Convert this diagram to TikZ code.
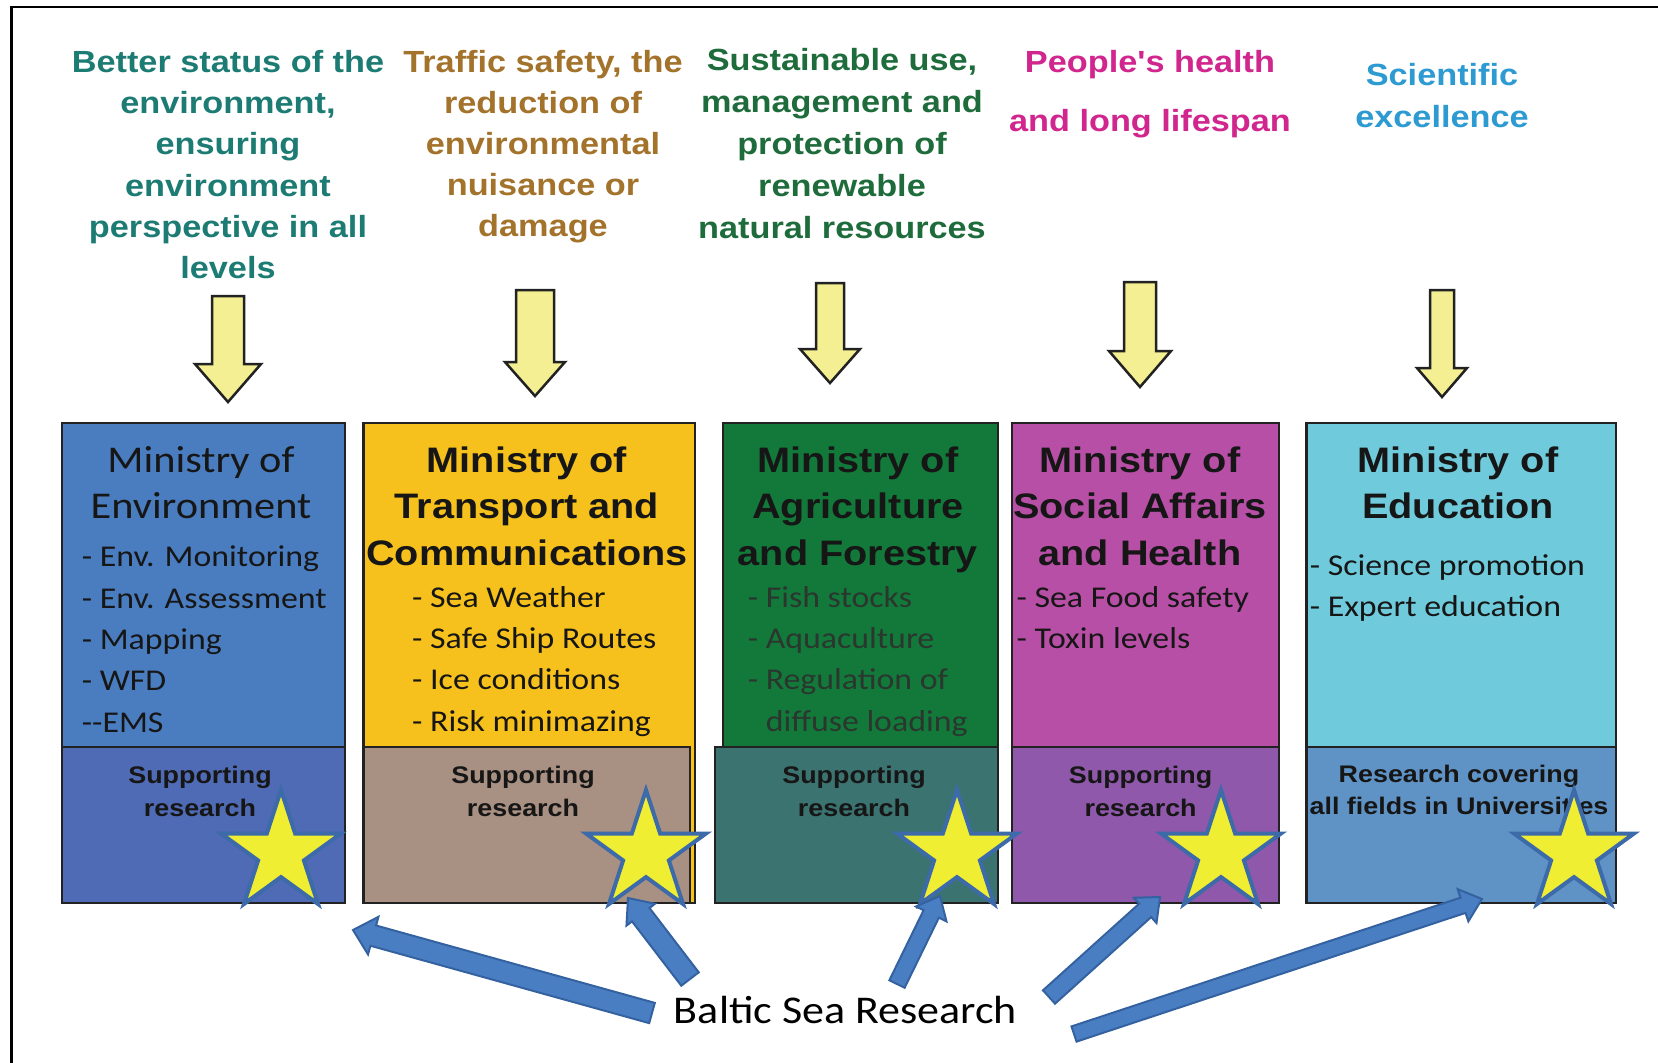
\documentclass[tikz,border=0pt]{standalone}
\usepackage{fontspec}
\usetikzlibrary{calc,shapes.geometric}
\newfontfamily\hfont{Liberation Sans}[FakeStretch=1.12,Ligatures=TeXOff]
\newfontfamily\cfont{Carlito}[FakeStretch=1.12,Ligatures=TeXOff]
\newcommand\fl[1]{\rule{0pt}{#1pt}}
\definecolor{cA}{HTML}{1C7C74}
\definecolor{cB}{HTML}{A3722B}
\definecolor{cC}{HTML}{1E6C3B}
\definecolor{cD}{HTML}{D0268E}
\definecolor{cE}{HTML}{2D9BD2}
\definecolor{boxline}{HTML}{222222}
\definecolor{boxtext}{HTML}{161616}
\definecolor{bAt}{HTML}{4A7DBF}
\definecolor{bAb}{HTML}{4F6BB5}
\definecolor{bBt}{HTML}{F6C11C}
\definecolor{bBb}{HTML}{A89082}
\definecolor{bCt}{HTML}{13793A}
\definecolor{bCb}{HTML}{3B7371}
\definecolor{bDt}{HTML}{B84FA6}
\definecolor{bDb}{HTML}{8F58AA}
\definecolor{bEt}{HTML}{6FCADC}
\definecolor{bEb}{HTML}{5F93C5}
\definecolor{yfill}{HTML}{F3EF92}
\definecolor{staryellow}{HTML}{F0EE32}
\definecolor{starblue}{HTML}{3D6AA8}
\definecolor{arrowfill}{HTML}{4A7EC2}
\definecolor{arrowline}{HTML}{3462A0}
\definecolor{greylist}{HTML}{2A362E}
\newcommand\yarrow[6]{%
  \filldraw[yarrowstyle] ({#1-#5},#2) -- ({#1+#5},#2) -- ({#1+#5},#3) -- ({#1+#6},#3)
    -- (#1,#4) -- ({#1-#6},#3) -- ({#1-#5},#3) -- cycle;}
\newcommand\bluearrow[5]{%
  \coordinate (hb) at ($(#2)!#5pt!(#1)$);
  \filldraw[barrow] ($(#1)!#3pt!90:(#2)$) -- ($(hb)!#3pt!90:(#2)$) -- ($(hb)!#4pt!90:(#2)$)
    -- (#2) -- ($(hb)!#4pt!-90:(#2)$) -- ($(hb)!#3pt!-90:(#2)$) -- ($(#1)!#3pt!-90:(#2)$) -- cycle;}
\begin{document}
\begin{tikzpicture}[x=1pt,y=-1pt,
  hdr/.style={font=\hfont\bfseries\fontsize{30.6}{#1}\selectfont, align=center, anchor=north, inner sep=0pt},
  hdr/.default=41.3,
  mintitle/.style={font=\hfont\bfseries\fontsize{35.4}{46.5}\selectfont, align=center, anchor=north, inner sep=0pt, text=boxtext},
  mintitlelight/.style={font=\cfont\fontsize{37.8}{46}\selectfont, align=center, anchor=north, inner sep=0pt, text=boxtext},
  listtext/.style={font=\cfont\fontsize{30.2}{41.3}\selectfont, align=left, anchor=north west, inner sep=0pt, text=boxtext},
  suptext/.style={font=\hfont\bfseries\fontsize{24}{#1}\selectfont, align=center, anchor=north, inner sep=0pt, text=boxtext},
  suptext/.default=33,
  mainbox/.style={rectangle, draw=boxline, line width=2.5pt, anchor=north west, inner sep=0pt, outer sep=0pt},
  yarrowstyle/.style={fill=yfill, draw=boxline, line width=2.5pt, line join=miter},
  starshape/.style={star, star points=5, star point ratio=2.618, minimum size=126pt, inner sep=0pt,
    fill=staryellow, draw=starblue, line width=4pt},
  barrow/.style={fill=arrowfill, draw=arrowline, line width=2pt, line join=miter},
]
\useasboundingbox (0,0) rectangle (1658,1063);
\fill[white] (0,0) rectangle (1658,1063);
\draw[line width=2.5pt, black] (11.5,1063) -- (11.5,7) -- (1658,7);

% headers
\node[hdr=41.3, text=cA] (h1) at (228,46) {\fl{26}Better status of the\\environment,\\ensuring\\environment\\perspective in all\\levels};
\node[hdr=41, text=cB] (h2) at (543,46) {\fl{26}Traffic safety, the\\reduction of\\environmental\\nuisance or\\damage};
\node[hdr=42, text=cC] (h3) at (842,44) {\fl{26}Sustainable use,\\management and\\protection of\\renewable\\natural resources};
\node[hdr=59, text=cD] (h4) at (1150,46) {\fl{26}People's health\\and long lifespan};
\node[hdr=42, text=cE] (h5) at (1442,59) {\fl{26}Scientific\\excellence};

% yellow arrows
\yarrow{228}{296}{364}{402}{16}{33}
\yarrow{535}{290}{362}{396}{19}{30}
\yarrow{830}{283}{349}{383}{14}{30}
\yarrow{1140}{282}{351}{387}{16}{31}
\yarrow{1442}{290}{368}{397}{12}{25}

% ministry boxes
\node[mainbox, fill=bAt, minimum width=283pt, minimum height=480pt] (m1) at (62,423) {};
\node[mainbox, fill=bAb, minimum width=283pt, minimum height=156pt] (r1) at (62,747) {};
\node[mainbox, fill=bBt, minimum width=331.5pt, minimum height=480pt] (m2) at (363.5,423) {};
\node[mainbox, fill=bBb, minimum width=326.5pt, minimum height=156pt] (r2) at (363.5,747) {};
\node[mainbox, fill=bCt, minimum width=275pt, minimum height=480pt] (m3) at (723,423) {};
\node[mainbox, fill=bCb, minimum width=283pt, minimum height=156pt] (r3) at (715,747) {};
\node[mainbox, fill=bDt, minimum width=267pt, minimum height=480pt] (m4) at (1012,423) {};
\node[mainbox, fill=bDb, minimum width=267pt, minimum height=156pt] (r4) at (1012,747) {};
\node[mainbox, fill=bEt, minimum width=309.5pt, minimum height=480pt] (m5) at (1306.5,423) {};
\node[mainbox, fill=bEb, minimum width=309.5pt, minimum height=156pt] (r5) at (1306.5,747) {};

% titles
\node[mintitlelight] (t1) at (201,442) {\fl{30}Ministry of\\Environment};
\node[mintitle] (t2) at (527,442) {\fl{30}Ministry of\\Transport and\\Communications};
\node[mintitle] (t3) at (858,442) {\fl{30}Ministry of\\Agriculture\\and Forestry};
\node[mintitle] (t4) at (1140,442) {\fl{30}Ministry of\\Social Affairs\\and Health};
\node[mintitle] (t5) at (1458,442) {\fl{30}Ministry of\\Education};

% lists
\node[listtext] (l1) at (81.6,541.7) {\fl{25}- Env. Monitoring\\- Env. Assessment\\- Mapping\\- WFD\\--EMS};
\node[listtext] (l2) at (412,582) {\fl{25}- Sea Weather\\- Safe Ship Routes\\- Ice conditions\\- Risk minimazing};
\node[listtext, text=greylist] (l3) at (747.6,582) {\fl{25}- Fish stocks\\- Aquaculture\\- Regulation of\\\hphantom{- }diffuse loading};
\node[listtext] (l4) at (1016.4,582) {\fl{25}- Sea Food safety\\- Toxin levels};
\node[listtext] (l5) at (1309.6,550) {\fl{25}- Science promotion\\- Expert education};

% research texts
\node[suptext] (u1) at (200,763) {\fl{20}Supporting\\research};
\node[suptext] (u2) at (523,763) {\fl{20}Supporting\\research};
\node[suptext] (u3) at (854,763) {\fl{20}Supporting\\research};
\node[suptext] (u4) at (1140.6,763) {\fl{20}Supporting\\research};
\node[suptext=32] (u5) at (1459,762) {\fl{20}Research covering\\all fields in Universities};

% stars
\node[starshape] (s1) at (281,853) {};
\node[starshape] (s2) at (646,853) {};
\node[starshape] (s3) at (957,853) {};
\node[starshape] (s4) at (1221,853) {};
\node[starshape] (s5) at (1574,853) {};

% Baltic Sea Research
\node[font=\cfont\fontsize{39.3}{46}\selectfont, anchor=base, inner sep=0pt, text=black] (bsr) at (845.5,1023) {Baltic Sea Research};

\coordinate (ta) at (652,1013); \coordinate (ea) at (353,930);
\coordinate (tb) at (690,979);  \coordinate (eb) at (628,898);
\coordinate (tc) at (897,984);  \coordinate (ec) at (940,896);
\coordinate (td) at (1049,997); \coordinate (ed) at (1160,897);
\coordinate (te) at (1074,1034); \coordinate (ee) at (1482,899);
\bluearrow{ta}{ea}{10.5}{19.5}{21}
\bluearrow{tb}{eb}{11}{18}{21}
\bluearrow{tc}{ec}{8.5}{17}{20}
\bluearrow{td}{ed}{9}{17}{20}
\bluearrow{te}{ee}{8}{17}{20}
\end{tikzpicture}
\end{document}
